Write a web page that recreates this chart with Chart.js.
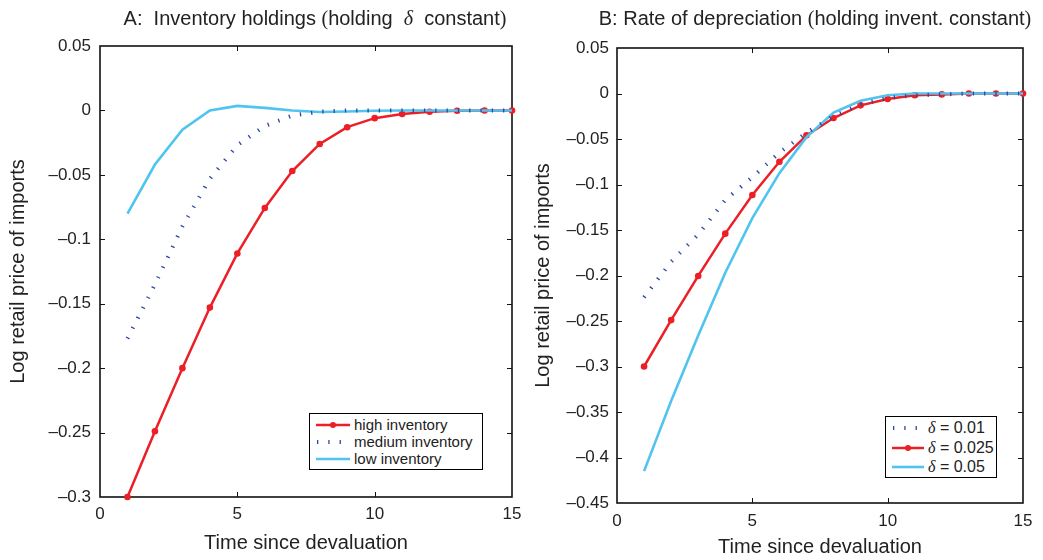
<!DOCTYPE html>
<html><head><meta charset="utf-8">
<script src="https://cdn.jsdelivr.net/npm/chart.js@4.4.1/dist/chart.umd.min.js"></script>
<style>
html,body{margin:0;padding:0;background:#fff;}
body{width:1043px;height:560px;overflow:hidden;position:relative;font-family:'Liberation Sans',Arial,sans-serif;color:#222;}
canvas{position:absolute;top:0;}
#ca{left:0;}
#cb{left:521px;}
.title{position:absolute;top:7px;font-size:20px;line-height:22px;text-align:center;white-space:nowrap;color:#222;}
.serif{font-family:'Liberation Serif','DejaVu Serif',serif;}
.ital{font-family:'Liberation Serif','DejaVu Serif',serif;font-style:italic;}
.legend{position:absolute;border:1.5px solid #000;background:#fff;box-sizing:border-box;}
.row{position:absolute;left:0;height:18px;line-height:18px;font-size:15px;white-space:nowrap;color:#222;}
.row svg{position:absolute;top:0;}
.row span.t{position:absolute;top:0;}
</style>
</head><body>
<canvas id="ca" width="521" height="560"></canvas>
<canvas id="cb" width="522" height="560"></canvas>

<div class="title" style="left:115px;width:400px;">A:&nbsp; Inventory holdings <span class="serif">(</span>holding&nbsp; <span class="ital">δ</span>&nbsp; constant<span class="serif">)</span></div>
<div class="title" style="left:587px;width:456px;">B: Rate of depreciation <span class="serif">(</span>holding invent. constant<span class="serif">)</span></div>

<div class="legend" id="legA" style="left:309px;top:413px;width:174px;height:57px;"></div>
<div class="legend" id="legB" style="left:885px;top:416px;width:112px;height:62px;"></div>

<script>
// ---------- data ----------
const periods = [1,2,3,4,5,6,7,8,9,10,11,12,13,14,15];
const xTickValues = [0,5,10,15];

// Panel A: inventory holdings
const highInventory   = [-0.300,-0.249,-0.200,-0.153,-0.111,-0.0757,-0.047,-0.026,-0.013,-0.006,-0.0027,-0.001,-0.0003,0,0];
const mediumInventory = [-0.177,-0.135,-0.090,-0.053,-0.027,-0.012,-0.004,-0.001,0,0,0,0,0,0,0];
const lowInventory    = [-0.080,-0.042,-0.015,0.000,0.0035,0.002,0.000,-0.0012,-0.0008,-0.0003,0,0,0,0,0];

// Panel B: rate of depreciation
const delta001  = [-0.224,-0.185,-0.155,-0.117,-0.092,-0.065,-0.043,-0.025,-0.012,-0.005,-0.002,-0.001,0,0,0];
const delta0025 = [-0.300,-0.249,-0.2005,-0.154,-0.1115,-0.075,-0.046,-0.027,-0.013,-0.006,-0.002,-0.001,0,0,0];
const delta005  = [-0.415,-0.338,-0.266,-0.197,-0.137,-0.0875,-0.048,-0.021,-0.008,-0.002,0,0,0,0,0];

const yTicksA = [0.05,0,-0.05,-0.1,-0.15,-0.2,-0.25,-0.3];
const yTicksB = [0.05,0,-0.05,-0.1,-0.15,-0.2,-0.25,-0.3,-0.35,-0.4,-0.45];

const labelsA = ['high inventory','medium inventory','low inventory'];
const labelsB = ['0.01','0.025','0.05'];

// ---------- styles ----------
const RED = '#ec1f26', CYAN = '#4fc4ef', BLUE = '#2c47a6';
const FONT = "'Liberation Sans', Arial, sans-serif";

function pts(vals){ return periods.map((t,i)=>({x:t,y:vals[i]})); }

function fmt(v){
  const r = Math.round(v*100)/100;
  if (Math.abs(r) < 1e-9) return '0';
  return (r<0?'\u2013':'') + String(Math.abs(r));
}

const framePlugin = {
  id:'frame',
  beforeDatasetsDraw(chart){
    const {ctx, chartArea:a, scales} = chart;
    ctx.save();
    ctx.strokeStyle = '#111';
    ctx.lineWidth = 1.6;
    ctx.strokeRect(a.left, a.top, a.right-a.left, a.bottom-a.top);
    ctx.lineWidth = 1;
    const L = 5;
    ctx.beginPath();
    scales.x.ticks.forEach(tk=>{
      const px = Math.round(scales.x.getPixelForValue(tk.value))+0.5;
      if (px <= a.left+1 || px >= a.right-1) return;
      ctx.moveTo(px, a.bottom); ctx.lineTo(px, a.bottom-L);
      ctx.moveTo(px, a.top); ctx.lineTo(px, a.top+L);
    });
    scales.y.ticks.forEach(tk=>{
      const py = Math.round(scales.y.getPixelForValue(tk.value))+0.5;
      if (py <= a.top+1 || py >= a.bottom-1) return;
      ctx.moveTo(a.left, py); ctx.lineTo(a.left+L, py);
      ctx.moveTo(a.right, py); ctx.lineTo(a.right-L, py);
    });
    ctx.stroke();
    ctx.restore();
  }
};

function makeChart(id, cfg){
  const datasets = cfg.series.map(s=>{
    const base = {label:s.label, data:pts(s.data), borderColor:s.color, backgroundColor:s.color,
      tension:0, clip:false, order:s.order, fill:false};
    if (s.kind==='dotted') Object.assign(base,{borderWidth:4, borderDash:[1.3,10], borderCapStyle:'butt', pointRadius:0});
    else if (s.kind==='marker') Object.assign(base,{borderWidth:2.5, pointRadius:3.3, pointBorderWidth:0, pointBackgroundColor:s.color});
    else Object.assign(base,{borderWidth:2.6, pointRadius:0});
    return base;
  });
  return new Chart(document.getElementById(id), {
    type:'line',
    data:{datasets},
    options:{
      responsive:false, animation:false, devicePixelRatio:1,
      layout:{padding:cfg.padding},
      plugins:{legend:{display:false}, tooltip:{enabled:false}, title:{display:false}},
      scales:{
        x:{type:'linear', min:0, max:15,
          afterBuildTicks(s){ s.ticks = xTickValues.map(v=>({value:v})); },
          afterFit(s){ s.height = cfg.xHeight; s.paddingLeft = 0; s.paddingRight = 0; },
          grid:{display:false, drawTicks:false}, border:{display:false},
          ticks:{font:{family:FONT,size:17}, color:'#222', padding:cfg.xTickPad, maxRotation:0, autoSkip:false,
            callback:v=>String(v)},
          title:{display:true, text:'Time since devaluation', font:{family:FONT,size:20}, color:'#222',
            padding:{top:0,bottom:cfg.xTitlePad}}
        },
        y:{type:'linear', min:cfg.yMin, max:0.05,
          afterBuildTicks(s){ s.ticks = cfg.yTicks.map(v=>({value:v})); },
          afterFit(s){ s.width = cfg.yWidth; s.paddingTop = 0; s.paddingBottom = 0; },
          grid:{display:false, drawTicks:false}, border:{display:false},
          ticks:{font:{family:FONT,size:17}, color:'#222', padding:cfg.yTickPad, autoSkip:false,
            callback:v=>fmt(v)},
          title:{display:true, text:'Log retail price of imports', font:{family:FONT,size:20}, color:'#222',
            padding:{top:cfg.yTitlePad,bottom:0}}
        }
      }
    },
    plugins:[framePlugin]
  });
}

makeChart('ca', {
  padding:{left:0,right:9,top:46,bottom:0}, xHeight:63, yWidth:100, yMin:-0.3, yTicks:yTicksA,
  xTickPad:7, xTitlePad:5, yTickPad:9, yTitlePad:6,
  series:[
    {label:labelsA[0], data:highInventory, color:RED, kind:'marker', order:3},
    {label:labelsA[1], data:mediumInventory, color:BLUE, kind:'dotted', order:1},
    {label:labelsA[2], data:lowInventory, color:CYAN, kind:'solid', order:2}
  ]
});

makeChart('cb', {
  padding:{left:0,right:20,top:48,bottom:0}, xHeight:57, yWidth:96, yMin:-0.45, yTicks:yTicksB,
  xTickPad:8, xTitlePad:1, yTickPad:8, yTitlePad:10,
  series:[
    {label:labelsB[0], data:delta001, color:BLUE, kind:'dotted', order:1},
    {label:labelsB[1], data:delta0025, color:RED, kind:'marker', order:3},
    {label:labelsB[2], data:delta005, color:CYAN, kind:'solid', order:2}
  ]
});

// ---------- legends (HTML) ----------
function sample(kind, color, w){
  if (kind==='marker') return `<svg width="${w}" height="18"><line x1="0" y1="9" x2="${w}" y2="9" stroke="${color}" stroke-width="2.5"/><circle cx="${w/2}" cy="9" r="3" fill="${color}"/></svg>`;
  if (kind==='dotted') return `<svg width="${w}" height="18"><line x1="1" y1="9" x2="${w}" y2="9" stroke="${color}" stroke-width="4" stroke-dasharray="1.3 10"/></svg>`;
  return `<svg width="${w}" height="18"><line x1="0" y1="9" x2="${w}" y2="9" stroke="${color}" stroke-width="2.6"/></svg>`;
}
const legA = document.getElementById('legA');
[[labelsA[0],'marker',RED],[labelsA[1],'dotted',BLUE],[labelsA[2],'solid',CYAN]].forEach((r,i)=>{
  const d = document.createElement('div'); d.className='row';
  d.style.top = (1.5 + i*17) + 'px';
  d.innerHTML = `<span style="position:absolute;left:6px;top:0">${sample(r[1],r[2],34)}</span><span class="t" style="left:44px">${r[0]}</span>`;
  legA.appendChild(d);
});
const legB = document.getElementById('legB');
[[labelsB[0],'dotted',BLUE],[labelsB[1],'marker',RED],[labelsB[2],'solid',CYAN]].forEach((r,i)=>{
  const d = document.createElement('div'); d.className='row';
  d.style.top = (2 + i*19.5) + 'px';
  d.innerHTML = `<span style="position:absolute;left:6px;top:0">${sample(r[1],r[2],32)}</span><span class="t" style="left:42px;font-size:16px"><span class="ital">δ</span> = ${r[0]}</span>`;
  legB.appendChild(d);
});
</script>
</body></html>
